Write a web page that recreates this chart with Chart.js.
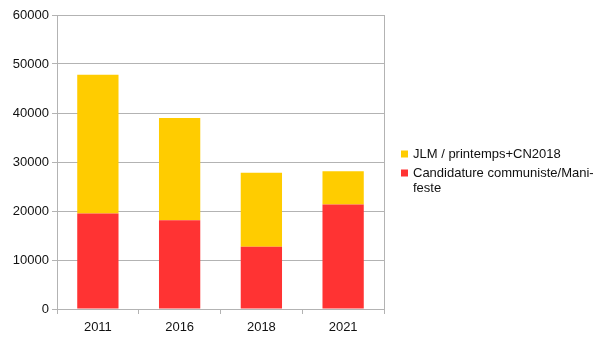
<!DOCTYPE html>
<html lang="en">
<head>
    <meta charset="UTF-8">
    <title>Stacked bars</title>
    <script src="https://cdn.jsdelivr.net/npm/chart.js"></script>
    <style>
        body { margin: 0; background: #fff; }
        #wrap { width: 605px; height: 340px; }
    </style>
</head>
<body>
    <div id="wrap"><canvas id="barChart"></canvas></div>
    <script>
        // data
        const years = ['2011', '2016', '2018', '2021'];
        const communiste = [19500, 18100, 12700, 21350];
        const jlm = [28300, 20900, 15100, 6750];
        const yTicks = [0, 10000, 20000, 30000, 40000, 50000, 60000];
        const seriesNames = [['Candidature communiste/Mani-', 'feste'], ['JLM / printemps+CN2018']];

        const grey = '#b3b3b3';
        const font = { family: 'Liberation Sans, Arial, sans-serif', size: 13 };

        // legend on the right, top series first, long label wrapped like the original
        const sideLegend = {
            id: 'sideLegend',
            afterDraw(chart) {
                const ctx = chart.ctx;
                const sets = chart.data.datasets;
                let y = 154;
                ctx.save();
                ctx.font = '13px ' + font.family;
                ctx.textBaseline = 'middle';
                for (let i = sets.length - 1; i >= 0; i--) {
                    const lines = seriesNames[i];
                    ctx.fillStyle = sets[i].backgroundColor;
                    ctx.fillRect(401, y - 3.5, 7, 7);
                    ctx.fillStyle = '#111';
                    lines.forEach((t, k) => ctx.fillText(t, 413, y + k * 15));
                    y += 19 + (lines.length - 1) * 15;
                }
                ctx.restore();
            }
        };

        new Chart(document.getElementById('barChart'), {
            type: 'bar',
            data: {
                labels: years,
                datasets: [
                    { label: seriesNames[0].join(''), data: communiste, backgroundColor: '#ff3333' },
                    { label: seriesNames[1][0], data: jlm, backgroundColor: '#ffcc00' }
                ]
            },
            options: {
                responsive: true,
                maintainAspectRatio: false,
                animation: false,
                barPercentage: 0.505,
                categoryPercentage: 1,
                layout: { padding: { top: 15, right: 221, left: 0, bottom: 0 } },
                plugins: { legend: { display: false }, tooltip: { enabled: false } },
                scales: {
                    x: {
                        stacked: true,
                        grid: {
                            offset: true,
                            tickLength: 5,
                            color: c => (c.type !== 'tick') ? grey : 'transparent',
                            tickColor: grey
                        },
                        border: { color: grey },
                        ticks: { color: '#111', font: font, padding: 6 },
                        afterFit: s => { s.height = 31; }
                    },
                    y: {
                        stacked: true,
                        min: 0,
                        max: 60000,
                        afterBuildTicks: s => { s.ticks = yTicks.map(v => ({ value: v })); },
                        grid: { color: grey, tickLength: 5 },
                        border: { color: grey },
                        ticks: { color: '#111', font: font, padding: 3, callback: v => String(v) },
                        afterFit: s => { s.width = 57; }
                    }
                }
            },
            plugins: [sideLegend]
        });
    </script>
</body>
</html>
